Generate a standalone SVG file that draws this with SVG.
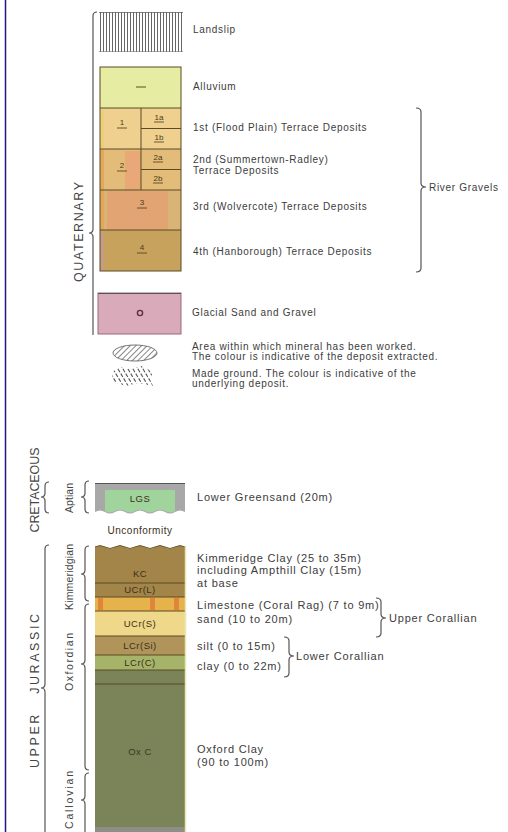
<svg xmlns="http://www.w3.org/2000/svg" width="508" height="832" viewBox="0 0 508 832">
<style>
.t{font-family:"Liberation Sans",Arial,sans-serif;font-size:10px;letter-spacing:0.7px;fill:#3c3c3c}
.b{font-family:"Liberation Sans",Arial,sans-serif;font-size:11px;letter-spacing:0.8px;fill:#3c3c3c}
.p{font-family:"Liberation Sans",Arial,sans-serif;font-size:12.5px;fill:#444}
.s{font-family:"Liberation Sans",Arial,sans-serif;font-size:10.5px;fill:#444}
.sym{font-family:"Liberation Sans",Arial,sans-serif;font-size:8px;fill:#4a3a18;text-anchor:middle}
.c{font-family:"Liberation Sans",Arial,sans-serif;font-size:9.5px;fill:#3a3018;text-anchor:middle;letter-spacing:0.5px}
.br{fill:none;stroke:#555;stroke-width:1.2}
.ln{stroke:#5b4a25;stroke-width:1;fill:none}
.mg{stroke:#555;stroke-width:1.1;stroke-dasharray:4 1.6}
</style>
<defs>
<pattern id="vhatch" width="3" height="10" patternUnits="userSpaceOnUse"><line x1="1.5" y1="0" x2="1.5" y2="10" stroke="#555" stroke-width="0.9"/></pattern>
<pattern id="dhatch" width="4" height="4" patternUnits="userSpaceOnUse" patternTransform="rotate(45)"><line x1="0" y1="0" x2="0" y2="4" stroke="#444" stroke-width="1.3"/></pattern>
<clipPath id="mgclip"><path d="M112,372 L120,367 L130,369 L142,366 L153,372 L150,379 L153,386 L138,383 L126,386 L113,382 Z"/></clipPath>
</defs>

<line x1="5.5" y1="0" x2="5.5" y2="832" stroke="#1a1a80" stroke-width="1.5"/>

<g id="connectors">
<path class="br" d="M97,12 Q93,12 93,16 L93,229 Q93,233 89,233 Q93,233 93,237 L93,335"/>
<path class="br" d="M416,108 Q421,108 421,112 L421,183 Q421,187 426,187 Q421,187 421,191 L421,268 Q421,272 416,272"/>
<path class="br" d="M49,482 Q45,482 45,486 L45,493 Q45,497 41,497 Q45,497 45,501 L45,509 Q45,513 49,513"/>
<path class="br" d="M49,545 Q45,545 45,549 L45,684 Q45,688 41,688 Q45,688 45,692 L45,832"/>
<path class="br" d="M89,481 Q85,481 85,485 L85,493 Q85,497 81,497 Q85,497 85,501 L85,509 Q85,513 89,513"/>
<path class="br" d="M89,546 Q85,546 85,550 L85,570 Q85,574 81,574 Q85,574 85,578 L85,597 Q85,601 89,601"/>
<path class="br" d="M89,604 Q85,604 85,608 L85,660 Q85,664 81,664 Q85,664 85,668 L85,766 Q85,770 89,770"/>
<path class="br" d="M89,773 Q85,773 85,777 L85,796 Q85,800 81,800 Q85,800 85,804 L85,832"/>
<path class="br" d="M376,598 Q381,598 381,602 L381,614 Q381,618 386,618 Q381,618 381,622 L381,633 Q381,637 376,637"/>
<path class="br" d="M284,637 Q289,637 289,641 L289,652 Q289,656 294,656 Q289,656 289,660 L289,673 Q289,677 284,677"/>
</g>

<g id="period-labels">
<text class="p" transform="translate(79,232) rotate(-90)" y="4.4" text-anchor="middle" textLength="100" lengthAdjust="spacing">QUATERNARY</text>
<text class="p" transform="translate(35,490) rotate(-90)" y="4.4" text-anchor="middle" textLength="85" lengthAdjust="spacing">CRETACEOUS</text>
<text class="p" transform="translate(35,691) rotate(-90)" y="4.4" text-anchor="middle" xml:space="preserve" textLength="154" lengthAdjust="spacing">UPPER   JURASSIC</text>
<text class="s" transform="translate(69,498) rotate(-90)" y="3.8" text-anchor="middle" textLength="30" lengthAdjust="spacing">Aptian</text>
<text class="s" transform="translate(69,577) rotate(-90)" y="3.8" text-anchor="middle" textLength="66" lengthAdjust="spacing">Kimmeridgian</text>
<text class="s" transform="translate(69,662) rotate(-90)" y="3.8" text-anchor="middle" textLength="58" lengthAdjust="spacing">Oxfordian</text>
<text class="s" transform="translate(69,800) rotate(-90)" y="3.8" text-anchor="middle" textLength="58" lengthAdjust="spacing">Callovian</text>
</g>

<g id="landslip">
<rect x="99" y="12" width="84" height="40" fill="url(#vhatch)"/>
<line x1="99" y1="12.5" x2="183" y2="12.5" stroke="#666" stroke-width="0.8"/>
<line x1="99" y1="51.5" x2="183" y2="51.5" stroke="#777" stroke-width="0.6"/>
<text class="t" x="193" y="33">Landslip</text>
</g>

<g id="alluvium">
<rect x="100" y="67" width="81" height="41" fill="#e6eda3"/>
<line x1="136" y1="87" x2="146" y2="87" stroke="#6a6a30" stroke-width="1.2"/>
<text class="t" x="193" y="90">Alluvium</text>
</g>

<g id="terrace1">
<rect x="100" y="108" width="81" height="41" fill="#efd08e"/>
<line class="ln" x1="141" y1="108" x2="141" y2="149"/>
<line class="ln" x1="141" y1="128.5" x2="181" y2="128.5"/>
<text class="sym" x="122" y="125">1</text><line x1="117" y1="128" x2="127" y2="128" stroke="#4a3a18" stroke-width="0.8"/>
<text class="sym" x="159" y="120">1a</text><line x1="154" y1="122" x2="164" y2="122" stroke="#4a3a18" stroke-width="0.8"/>
<text class="sym" x="159" y="140">1b</text><line x1="154" y1="142" x2="164" y2="142" stroke="#4a3a18" stroke-width="0.8"/>
<text class="t" x="193" y="131">1st (Flood Plain) Terrace Deposits</text>
</g>

<g id="terrace2">
<rect x="100" y="149" width="81" height="41" fill="#e2bc78"/>
<rect x="125" y="151" width="16" height="39" fill="#e9a877"/>
<line class="ln" x1="141" y1="149" x2="141" y2="190"/>
<line class="ln" x1="141" y1="169.5" x2="181" y2="169.5"/>
<text class="sym" x="122" y="168">2</text><line x1="117" y1="171" x2="127" y2="171" stroke="#4a3a18" stroke-width="0.8"/>
<text class="sym" x="158" y="160">2a</text><line x1="153" y1="162" x2="163" y2="162" stroke="#4a3a18" stroke-width="0.8"/>
<text class="sym" x="158" y="181">2b</text><line x1="153" y1="183" x2="163" y2="183" stroke="#4a3a18" stroke-width="0.8"/>
<text class="t" x="193" y="163">2nd (Summertown-Radley)</text>
<text class="t" x="193" y="174">Terrace Deposits</text>
</g>

<g id="terrace3">
<rect x="100" y="190" width="81" height="40" fill="#d9b476"/>
<rect x="107" y="191" width="61" height="39" fill="#e2a473"/>
<text class="sym" x="142" y="205">3</text><line x1="137" y1="208" x2="147" y2="208" stroke="#4a3a18" stroke-width="0.8"/>
<text class="t" x="193" y="210">3rd (Wolvercote) Terrace Deposits</text>
</g>

<g id="terrace4">
<rect x="100" y="230" width="81" height="41" fill="#c7a25d"/>
<text class="sym" x="142" y="250">4</text><line x1="137" y1="253" x2="147" y2="253" stroke="#4a3a18" stroke-width="0.8"/>
<text class="t" x="193" y="255">4th (Hanborough) Terrace Deposits</text>
</g>

<g id="top-column-frame">
<rect x="100" y="110" width="4" height="38" fill="#e8d070" opacity="0.7"/>
<rect x="100" y="150" width="4" height="40" fill="#e3a050" opacity="0.7"/>
<rect x="100" y="191" width="4" height="39" fill="#e8a050" opacity="0.7"/>
<rect x="100" y="231" width="4" height="40" fill="#c89a9a" opacity="0.7"/>
<line class="ln" x1="100" y1="108" x2="181" y2="108"/>
<line class="ln" x1="100" y1="149" x2="181" y2="149"/>
<line class="ln" x1="100" y1="190" x2="181" y2="190"/>
<line class="ln" x1="100" y1="230" x2="181" y2="230"/>
<rect x="100" y="67" width="81" height="204" fill="none" stroke="#5b4a25" stroke-width="1"/>
</g>

<g id="river-gravels">
<text class="t" x="429" y="191">River Gravels</text>
</g>

<g id="glacial">
<rect x="98" y="293" width="83" height="41" fill="#d9aab9" stroke="#9a6a7c" stroke-width="1"/>
<line x1="98" y1="293.5" x2="181" y2="293.5" stroke="#555" stroke-width="1.2"/>
<circle cx="140" cy="313" r="2.6" fill="none" stroke="#5a3040" stroke-width="1.4"/>
<text class="t" x="192" y="316">Glacial Sand and Gravel</text>
</g>

<g id="worked">
<ellipse cx="135" cy="353" rx="22" ry="8" fill="url(#dhatch)" stroke="#555" stroke-width="0.8"/>
<text class="t" x="192" y="350">Area within which mineral has been worked.</text>
<text class="t" x="192" y="360">The colour is indicative of the deposit extracted.</text>
</g>

<g id="made-ground">
<g clip-path="url(#mgclip)">
<line class="mg" x1="100" y1="364" x2="115" y2="389"/>
<line class="mg" x1="105" y1="364" x2="120" y2="389"/>
<line class="mg" x1="110" y1="364" x2="125" y2="389"/>
<line class="mg" x1="115" y1="364" x2="130" y2="389"/>
<line class="mg" x1="120" y1="364" x2="135" y2="389"/>
<line class="mg" x1="125" y1="364" x2="140" y2="389"/>
<line class="mg" x1="130" y1="364" x2="145" y2="389"/>
<line class="mg" x1="135" y1="364" x2="150" y2="389"/>
<line class="mg" x1="140" y1="364" x2="155" y2="389"/>
<line class="mg" x1="145" y1="364" x2="160" y2="389"/>
<line class="mg" x1="150" y1="364" x2="165" y2="389"/>
</g>
<text class="t" x="192" y="377">Made ground. The colour is indicative of the</text>
<text class="t" x="192" y="387">underlying deposit.</text>
</g>

<g id="lgs">
<path d="M95,483 L185,483 L185,512 Q180,509 175,512 Q170,515 165,512 Q160,509 155,512 Q150,515 145,512 Q140,509 135,512 Q130,515 125,512 Q120,509 115,512 Q110,515 105,512 Q100,509 95,512 Z" fill="#a8a8a8"/>
<path d="M105,490 L175,490 L175,511 Q170,514 165,511 Q160,508 155,511 Q150,514 145,511 Q140,508 135,511 Q130,514 125,511 Q120,508 115,511 Q110,514 105,511 Z" fill="#a0d49c"/>
<line x1="95" y1="483.5" x2="185" y2="483.5" stroke="#555" stroke-width="1.2"/>
<text class="c" x="140" y="502">LGS</text>
<text class="b" x="197" y="501">Lower Greensand (20m)</text>
</g>

<text class="c" x="140" y="534" style="font-size:10px">Unconformity</text>

<g id="kc">
<path d="M95,547 Q100,544 105,547 Q110,550 115,547 Q120,544 125,547 Q130,550 135,547 Q140,544 145,547 Q150,550 155,547 Q160,544 165,547 Q170,550 175,547 Q180,544 185,547 L185,597 L95,597 Z" fill="#a3854a"/>
<path d="M95,547 Q100,544 105,547 Q110,550 115,547 Q120,544 125,547 Q130,550 135,547 Q140,544 145,547 Q150,550 155,547 Q160,544 165,547 Q170,550 175,547 Q180,544 185,547" fill="none" stroke="#6a5a30" stroke-width="1"/>
<line class="ln" x1="95" y1="583" x2="185" y2="583"/>
<text class="c" x="140" y="577">KC</text>
<text class="c" x="140" y="593">UCr(L)</text>
<text class="b" x="197" y="562">Kimmeridge Clay (25 to 35m)</text>
<text class="b" x="197" y="574">including Ampthill Clay (15m)</text>
<text class="b" x="197" y="587">at base</text>
</g>

<g id="limestone">
<rect x="95" y="597" width="90" height="14" fill="#e6b24c"/>
<rect x="98" y="598" width="5" height="12" fill="#e0853a"/>
<rect x="150" y="598" width="5" height="12" fill="#e0853a"/>
<rect x="174" y="598" width="5" height="12" fill="#e0853a"/>
<line class="ln" x1="95" y1="597" x2="185" y2="597"/>
<text class="b" x="197" y="609">Limestone (Coral Rag) (7 to 9m)</text>
</g>

<g id="ucr-s">
<rect x="95" y="611" width="90" height="25" fill="#efd88a"/>
<line class="ln" x1="95" y1="611" x2="185" y2="611"/>
<text class="c" x="140" y="627">UCr(S)</text>
<text class="b" x="197" y="623">sand (10 to 20m)</text>
<text class="b" x="389" y="622">Upper Corallian</text>
</g>

<g id="lcr-si">
<rect x="95" y="636" width="90" height="19" fill="#b0945a"/>
<line class="ln" x1="95" y1="636" x2="185" y2="636"/>
<text class="c" x="140" y="649">LCr(Si)</text>
<text class="b" x="197" y="650">silt (0 to 15m)</text>
</g>

<g id="lcr-c">
<rect x="95" y="655" width="90" height="15" fill="#a6b46a"/>
<line class="ln" x1="95" y1="655" x2="185" y2="655"/>
<text class="c" x="140" y="666">LCr(C)</text>
<text class="b" x="197" y="670">clay (0 to 22m)</text>
<text class="b" x="296" y="660">Lower Corallian</text>
</g>

<g id="oxc">
<rect x="95" y="670" width="90" height="157" fill="#7b8358"/>
<rect x="95" y="827" width="90" height="5" fill="#8e8e86"/>
<line class="ln" x1="95" y1="670" x2="185" y2="670"/>
<line class="ln" x1="95" y1="684" x2="185" y2="684"/>
<line x1="185.5" y1="546" x2="185.5" y2="832" stroke="#e8e8b0" stroke-width="1.5"/>
<text class="c" x="140" y="755" style="fill:#3a3a20">Ox C</text>
<text class="b" x="197" y="753">Oxford Clay</text>
<text class="b" x="197" y="766">(90 to 100m)</text>
</g>
</svg>
